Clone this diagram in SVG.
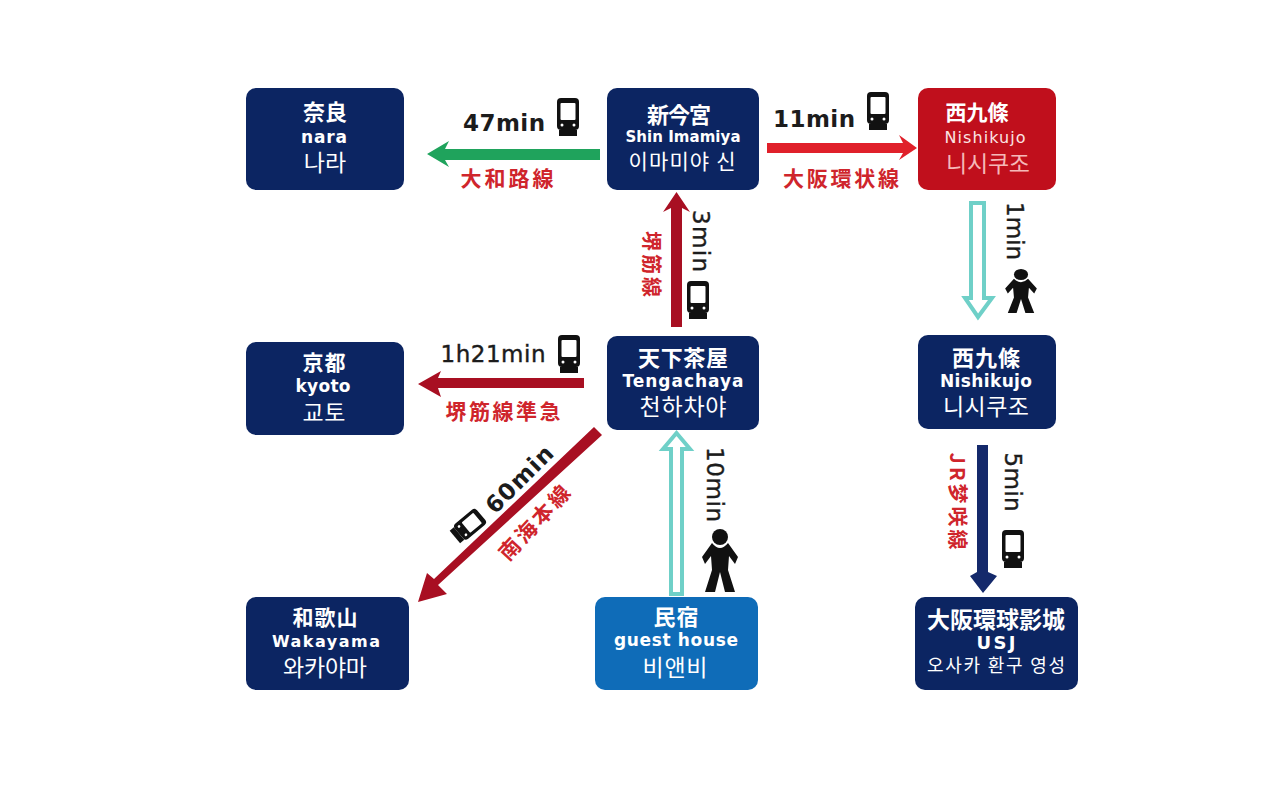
<svg xmlns="http://www.w3.org/2000/svg" width="1280" height="811" viewBox="0 0 1280 811">
<style>
text{font-family:"DejaVu Sans","Noto Sans CJK JP","Noto Sans CJK KR",sans-serif;text-anchor:middle}
.n{fill:#0c2562}
.w{fill:#fff;font-weight:700;font-size:22px;font-family:"Noto Sans CJK JP",sans-serif}
.e{fill:#fff;font-weight:700;font-size:17px}
.k{fill:#fff;font-size:23px;font-family:"Noto Sans CJK KR",sans-serif}
.t{fill:#1c1c1c;font-weight:700;font-size:23px}
.m{fill:#1c1c1c;font-weight:400;font-size:23px;stroke:#1c1c1c;stroke-width:.4}
.r{fill:#cf252c;font-weight:700;font-size:22px;font-family:"Noto Sans CJK JP",sans-serif}
.h{fill:#fff;stroke:#6fd0c8;stroke-width:4}
</style>
<defs>
<g id="train"><rect x="-11" y="-19" width="22" height="32" rx="4" fill="#111"/><rect x="-7.500" y="-14" width="15" height="17" rx="1" fill="#fff"/><path d="M-9 13H9V19H-9Z" fill="#111"/><circle cx="-6" cy="8" r="1.500" fill="#fff"/><circle cx="6" cy="8" r="1.500" fill="#fff"/></g>
<g id="man"><circle cx="0" cy="-25" r="8" fill="#111"/><path d="M-8-19Q0-9 8-19L18-5 15 2 9-6 8 8 15 30H5L0 10-5 30H-15L-8 8-9-6-15 2-18-5Z" fill="#111"/></g>
</defs>
<rect width="1280" height="811" fill="#fff"/>
<g id="connectors">
<path d="M600 149H445L449 141 427 154 449 167 445 160H600Z" fill="#1fa35c"/>
<path d="M767 143H903L899 135 917 148 899 160 903 153H767Z" fill="#e0202a"/>
<path d="M671 327V208L663 212 676.500 192 690 212 682 208V327Z" fill="#a80f22"/>
<path d="M584 378H438L441 371 418 384 441 397 438 388H584Z" fill="#a80f22"/>
<path d="M594 427 602 435 438 585 447 594 418 602 427 573 434 579Z" fill="#a80f22"/>
<path class="h" d="M671 594V449H663L676.500 433 690 449H682V594Z"/>
<path class="h" d="M971 203H984V298H992L978 317 965 298H971Z"/>
<path d="M977 445V572L970 576 983 593 997 576 988 572V445Z" fill="#14296b"/>
</g>
<g id="labels">
<text class="t" x="504" y="131" textLength="82">47min</text><use href="#train" x="568" y="117"/>
<text class="t" x="814" y="127" textLength="82">11min</text><use href="#train" x="878" y="111"/>
<text class="r" x="507" y="186" textLength="93" style="font-size:21px">大和路線</text>
<text class="r" x="841" y="186" textLength="116" style="font-size:21px">大阪環状線</text>
<text class="m" transform="translate(693 241) rotate(90)" textLength="62">3min</text><use href="#train" x="698" y="300"/>
<text class="r" transform="translate(644 264) rotate(90)" textLength="66" style="font-size:20px">堺筋線</text>
<text class="m" x="493" y="362" textLength="105">1h21min</text><use href="#train" x="569" y="354"/>
<text class="r" x="503" y="419" textLength="115" style="font-size:21px">堺筋線準急</text>
<text class="t" transform="translate(525 485) rotate(-45)" textLength="85">60min</text><use href="#train" transform="translate(468 526) rotate(50) scale(.9)"/>
<text class="r" transform="translate(540 528) rotate(-47)" textLength="93" style="font-size:21px">南海本線</text>
<text class="m" transform="translate(707 484.500) rotate(90)" textLength="75">10min</text><use href="#man" x="720" y="562"/>
<text class="m" transform="translate(1007 231) rotate(90)" textLength="58">1min</text><use href="#man" transform="translate(1021 292) scale(.88 .7)"/>
<text class="m" transform="translate(1005 482) rotate(90)" textLength="59">5min</text><use href="#train" x="1013" y="549"/>
<text class="r" transform="translate(950 501) rotate(90)" textLength="97" style="font-size:20px">JR梦咲線</text>
</g>
<g id="nara"><rect class="n" x="246" y="88" width="158" height="102" rx="10"/><text class="w" x="325" y="120">奈良</text><text class="e" x="324" y="143" textLength="46">nara</text><text class="k" x="325" y="171">나라</text></g>
<g id="shinimamiya"><rect class="n" x="607" y="88" width="152" height="102" rx="10"/><text class="w" x="679" y="123" textLength="64">新今宮</text><text class="e" x="683" y="142" textLength="115" style="font-size:15px">Shin Imamiya</text><text class="k" x="682" y="169" textLength="107" style="font-size:21px">이마미야 신</text></g>
<g id="nishikujo-red"><rect x="918" y="88" width="138" height="102" rx="10" fill="#c00f1c"/><text class="w" x="977" y="120" textLength="63" style="font-size:21px">西九條</text><text class="e" x="985" y="143" textLength="81" style="font-weight:400;font-size:16px;fill:#fbe4e4">Nishikujo</text><text class="k" x="988" y="172" textLength="84" style="fill:#f5b8b8">니시쿠조</text></g>
<g id="tengachaya"><rect class="n" x="607" y="336" width="152" height="94" rx="10"/><text class="w" x="683" y="366" textLength="90">天下茶屋</text><text class="e" x="683" y="387" textLength="121">Tengachaya</text><text class="k" x="683" y="415" textLength="87">천하차야</text></g>
<g id="kyoto"><rect class="n" x="246" y="342" width="158" height="93" rx="10"/><text class="w" x="324" y="370" textLength="43" style="font-size:21px">京都</text><text class="e" x="323" y="392" textLength="55">kyoto</text><text class="k" x="324" y="421" textLength="43">교토</text></g>
<g id="nishikujo"><rect class="n" x="918" y="335" width="138" height="94" rx="10"/><text class="w" x="986" y="366" textLength="68">西九條</text><text class="e" x="986" y="387" textLength="92">Nishikujo</text><text class="k" x="986" y="415" textLength="86">니시쿠조</text></g>
<g id="wakayama"><rect class="n" x="246" y="597" width="163" height="93" rx="10"/><text class="w" x="325" y="625" textLength="65" style="font-size:21px">和歌山</text><text class="e" x="326" y="647" textLength="108" style="font-size:16px">Wakayama</text><text class="k" x="325" y="676" textLength="84">와카야마</text></g>
<g id="guesthouse"><rect x="595" y="597" width="163" height="93" rx="10" fill="#0f6cb8"/><text class="w" x="676" y="625" textLength="45">民宿</text><text class="e" x="676" y="646" textLength="124">guest house</text><text class="k" x="675" y="676" textLength="65">비앤비</text></g>
<g id="usj"><rect class="n" x="915" y="597" width="163" height="93" rx="10"/><text class="w" x="996" y="628" textLength="138" style="font-size:23px">大阪環球影城</text><text class="e" x="996" y="649" textLength="39" style="font-size:18px">USJ</text><text class="k" x="996" y="672" textLength="138" style="font-size:18px">오사카 환구 영성</text></g>
</svg>
